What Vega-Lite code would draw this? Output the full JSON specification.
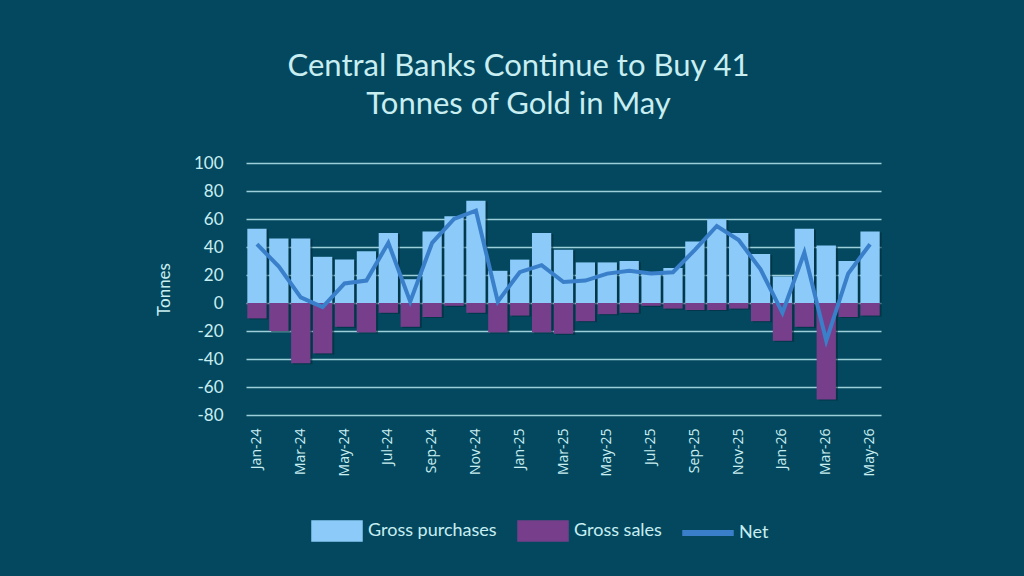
{
  "$schema": "https://vega.github.io/schema/vega-lite/v6.json",
  "width": 635,
  "height": 252,
  "padding": {"left": 155, "top": 51, "right": 150, "bottom": 45},
  "background": "#03485e",
  "config": {
    "view": {"stroke": null},
    "font": "Lato"
  },
  "title": {
    "text": ["Central Banks Continue to Buy 41", "Tonnes of Gold in May"],
    "fontSize": 31,
    "font": "Lato",
    "fontWeight": "normal",
    "color": "#c8eef2",
    "anchor": "middle",
    "frame": "bounds",
    "lineHeight": 38,
    "offset": 33
  },
  "data": {
    "values": [
      {"month": "Jan-24", "purchases": 53, "sales": -11, "net": 42},
      {"month": "Feb-24", "purchases": 46, "sales": -20, "net": 26},
      {"month": "Mar-24", "purchases": 46, "sales": -43, "net": 4},
      {"month": "Apr-24", "purchases": 33, "sales": -36, "net": -3},
      {"month": "May-24", "purchases": 31, "sales": -17, "net": 14},
      {"month": "Jun-24", "purchases": 37, "sales": -21, "net": 16},
      {"month": "Jul-24", "purchases": 50, "sales": -7, "net": 43},
      {"month": "Aug-24", "purchases": 17, "sales": -17, "net": 1},
      {"month": "Sep-24", "purchases": 51, "sales": -10, "net": 43},
      {"month": "Oct-24", "purchases": 62, "sales": -2, "net": 60},
      {"month": "Nov-24", "purchases": 73, "sales": -7, "net": 66},
      {"month": "Dec-24", "purchases": 23, "sales": -21, "net": 1},
      {"month": "Jan-25", "purchases": 31, "sales": -9, "net": 22},
      {"month": "Feb-25", "purchases": 50, "sales": -21, "net": 27},
      {"month": "Mar-25", "purchases": 38, "sales": -22, "net": 15},
      {"month": "Apr-25", "purchases": 29, "sales": -13, "net": 16},
      {"month": "May-25", "purchases": 29, "sales": -8, "net": 21},
      {"month": "Jun-25", "purchases": 30, "sales": -7, "net": 23},
      {"month": "Jul-25", "purchases": 21, "sales": -2, "net": 21},
      {"month": "Aug-25", "purchases": 25, "sales": -4, "net": 22},
      {"month": "Sep-25", "purchases": 44, "sales": -5, "net": 38},
      {"month": "Oct-25", "purchases": 60, "sales": -5, "net": 55},
      {"month": "Nov-25", "purchases": 50, "sales": -4, "net": 45},
      {"month": "Dec-25", "purchases": 35, "sales": -13, "net": 24},
      {"month": "Jan-26", "purchases": 19, "sales": -27, "net": -7},
      {"month": "Feb-26", "purchases": 53, "sales": -17, "net": 36},
      {"month": "Mar-26", "purchases": 41, "sales": -69, "net": -27},
      {"month": "Apr-26", "purchases": 30, "sales": -10, "net": 21},
      {"month": "May-26", "purchases": 51, "sales": -9, "net": 42}
    ]
  },
  "encoding": {
    "x": {
      "field": "month",
      "type": "ordinal",
      "sort": ["Jan-24","Feb-24","Mar-24","Apr-24","May-24","Jun-24","Jul-24","Aug-24","Sep-24","Oct-24","Nov-24","Dec-24","Jan-25","Feb-25","Mar-25","Apr-25","May-25","Jun-25","Jul-25","Aug-25","Sep-25","Oct-25","Nov-25","Dec-25","Jan-26","Feb-26","Mar-26","Apr-26","May-26"],
      "scale": {"paddingInner": 0.12, "paddingOuter": 0.06},
      "axis": {
        "title": null,
        "values": ["Jan-24","Mar-24","May-24","Jul-24","Sep-24","Nov-24","Jan-25","Mar-25","May-25","Jul-25","Sep-25","Nov-25","Jan-26","Mar-26","May-26"],
        "labelAngle": -90,
        "labelFontSize": 14,
        "labelFont": "Open Sans",
        "labelColor": "#c8eef2",
        "labelPadding": 13,
        "domain": false,
        "ticks": false,
        "grid": false
      }
    }
  },
  "layer": [
    {
      "transform": [{"fold": ["purchases", "sales"], "as": ["series", "value"]}],
      "mark": {"type": "bar", "color": "#012836", "opacity": 0.55, "xOffset": 2, "yOffset": 1},
      "encoding": {
        "y": {
          "field": "value",
          "type": "quantitative",
          "stack": null,
          "title": "Tonnes",
          "scale": {"domain": [-80, 100], "nice": false},
          "axis": {
            "values": [-80, -60, -40, -20, 0, 20, 40, 60, 80, 100],
            "labelExpr": "datum.value + ''",
            "labelFontSize": 17,
            "labelFont": "Lato",
            "labelColor": "#c8eef2",
            "labelPadding": 23,
            "labelOverlap": false,
            "titleFontSize": 17,
            "titleFont": "Lato",
            "titleFontWeight": "normal",
            "titleColor": "#c8eef2",
            "titlePadding": 20,
            "domain": false,
            "ticks": false,
            "gridColor": "#9ccfd9",
            "gridWidth": 1.5
          }
        }
      }
    },
    {
      "transform": [{"fold": ["purchases", "sales"], "as": ["series", "value"]}],
      "mark": {"type": "bar"},
      "encoding": {
        "y": {
          "field": "value",
          "type": "quantitative",
          "stack": null,
          "title": "Tonnes",
          "scale": {"domain": [-80, 100], "nice": false},
          "axis": {
            "values": [-80, -60, -40, -20, 0, 20, 40, 60, 80, 100],
            "labelExpr": "datum.value + ''",
            "labelFontSize": 17,
            "labelFont": "Lato",
            "labelColor": "#c8eef2",
            "labelPadding": 23,
            "labelOverlap": false,
            "titleFontSize": 17,
            "titleFont": "Lato",
            "titleFontWeight": "normal",
            "titleColor": "#c8eef2",
            "titlePadding": 20,
            "domain": false,
            "ticks": false,
            "gridColor": "#9ccfd9",
            "gridWidth": 1.5
          }
        },
        "color": {
          "field": "series",
          "type": "nominal",
          "scale": {"domain": ["purchases", "sales", "net"], "range": ["#8bcaf9", "#773f8b", "#3a7fc9"]},
          "legend": {
            "title": null,
            "orient": "none",
            "legendX": 65,
            "legendY": 342,
            "direction": "horizontal",
            "labelExpr": "datum.value === 'purchases' ? 'Gross purchases' : datum.value === 'sales' ? 'Gross sales' : 'Net'",
            "labelFontSize": 18,
            "labelColor": "#c8eef2",
            "labelOffset": 5,
            "columnPadding": 18,
            "symbolSize": 2500,
            "encode": {
              "symbols": {
                "update": {
                  "shape": {"signal": "datum.value === 'net' ? 'M-1,-0.09H1V0.09H-1Z' : 'M-1,-0.4H1V0.4H-1Z'"},
                  "fill": {"signal": "datum.value === 'purchases' ? '#8bcaf9' : datum.value === 'sales' ? '#773f8b' : '#3a7fc9'"},
                  "stroke": {"value": "transparent"},
                  "opacity": {"value": 1},
                  "fillOpacity": {"value": 1}
                }
              }
            }
          }
        }
      }
    },
    {
      "mark": {"type": "line", "strokeWidth": 4},
      "encoding": {
        "y": {
          "field": "net",
          "type": "quantitative",
          "title": "Tonnes",
          "scale": {"domain": [-80, 100], "nice": false},
          "axis": {
            "values": [-80, -60, -40, -20, 0, 20, 40, 60, 80, 100],
            "labelExpr": "datum.value + ''",
            "labelFontSize": 17,
            "labelFont": "Lato",
            "labelColor": "#c8eef2",
            "labelPadding": 23,
            "labelOverlap": false,
            "titleFontSize": 17,
            "titleFont": "Lato",
            "titleFontWeight": "normal",
            "titleColor": "#c8eef2",
            "titlePadding": 20,
            "domain": false,
            "ticks": false,
            "gridColor": "#9ccfd9",
            "gridWidth": 1.5
          }
        },
        "color": {"datum": "net", "type": "nominal"}
      }
    }
  ]
}
